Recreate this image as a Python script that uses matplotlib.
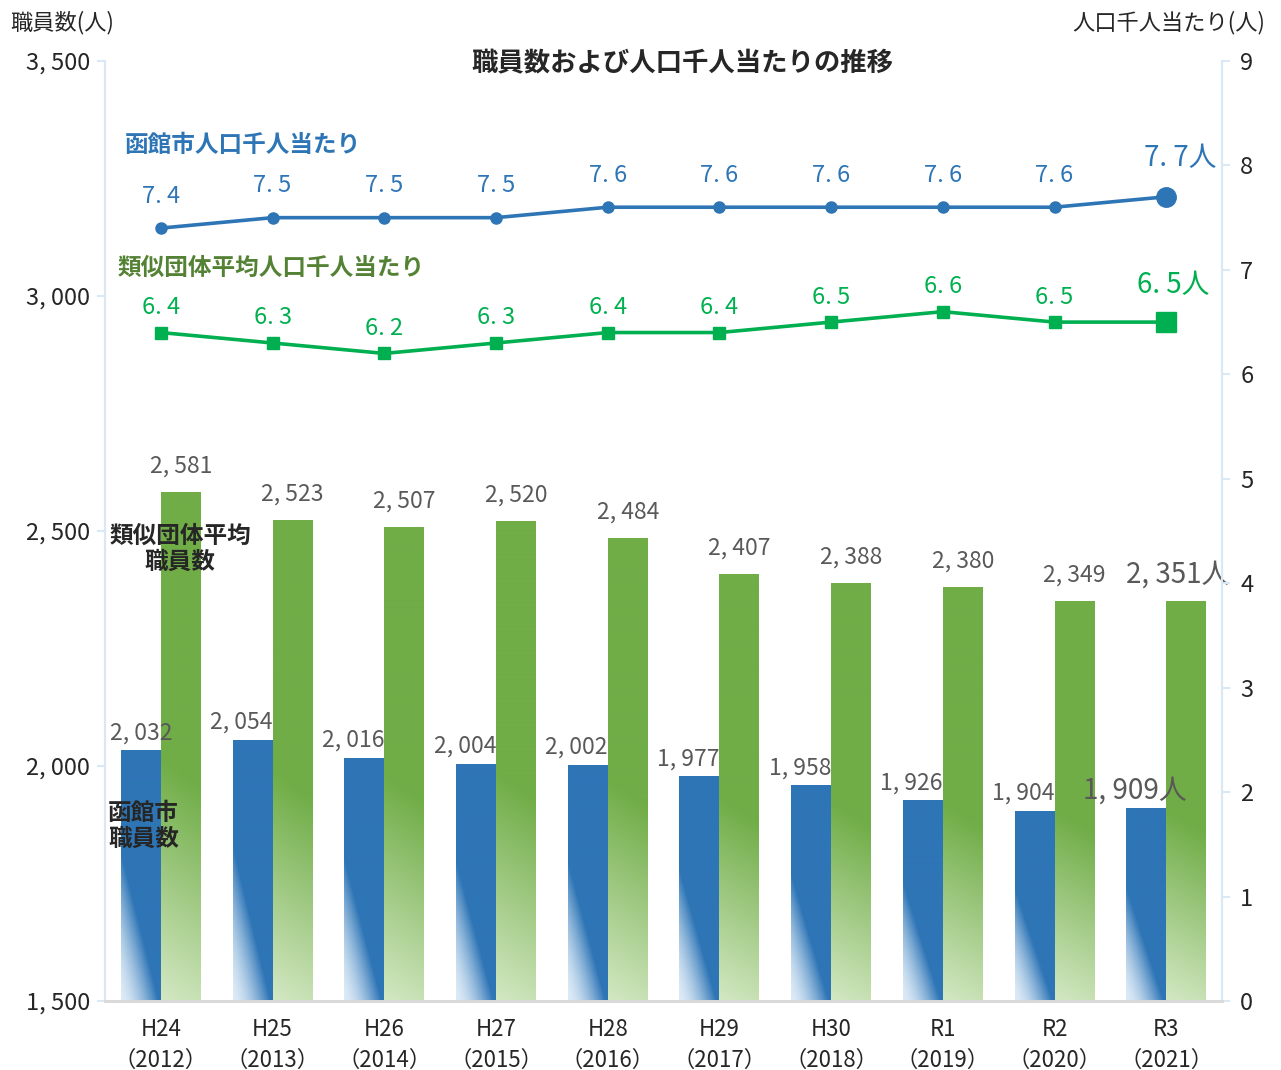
import numpy as np
import matplotlib
matplotlib.use("Agg")
import matplotlib.pyplot as plt
from matplotlib.colors import to_rgb

plt.rcParams['font.family'] = ['Noto Sans CJK JP', 'DejaVu Sans']

# data
years = ["H24\n（2012）", "H25\n（2013）", "H26\n（2014）", "H27\n（2015）", "H28\n（2016）",
         "H29\n（2017）", "H30\n（2018）", "R1\n（2019）", "R2\n（2020）", "R3\n（2021）"]
hakodate_staff = [2032, 2054, 2016, 2004, 2002, 1977, 1958, 1926, 1904, 1909]
similar_staff = [2581, 2523, 2507, 2520, 2484, 2407, 2388, 2380, 2349, 2351]
hakodate_per1000 = [7.4, 7.5, 7.5, 7.5, 7.6, 7.6, 7.6, 7.6, 7.6, 7.7]
similar_per1000 = [6.4, 6.3, 6.2, 6.3, 6.4, 6.4, 6.5, 6.6, 6.5, 6.5]

BLUE = "#2E75B6"
BLUE_LIGHT = "#DDEBF7"
GREEN_BAR = "#70AD47"
GREEN_LIGHT = "#D3E8C3"
GREEN_LINE = "#00B050"
GREEN_TEXT = "#548235"
GRAY_TEXT = "#595959"
DARK_TEXT = "#262626"
SPINE_BLUE = "#DAE8F5"


def fmt(v):
    return f"{v:,}".replace(",", ", ")


def fmt_dec(v):
    return f"{v:.1f}".replace(".", ". ")


def gradient_fill(ax, patch, c_light, c_dark, kx, ky, ymin, gamma=1.0):
    # paint the visible part of a bar with a bottom-left -> top-right gradient
    x0, y0 = patch.get_x(), max(patch.get_y(), ymin)
    x1, y1 = x0 + patch.get_width(), patch.get_y() + patch.get_height()
    nx, ny = 40, 200
    xf = np.linspace(0, 1, nx)[None, :]
    yf = np.linspace(0, 1, ny)[:, None]
    t = np.clip(xf * kx + yf * ky, 0, 1) ** gamma
    t = t[..., None]
    lo = np.array(to_rgb(c_light))
    hi = np.array(to_rgb(c_dark))
    img = lo + (hi - lo) * t
    ax.imshow(img, extent=(x0, x1, y0, y1), origin="lower", aspect="auto",
              interpolation="bilinear", zorder=2)
    patch.set_facecolor("none")


def main():
    fig = plt.figure(figsize=(12.81, 10.70), dpi=100)
    ax = fig.add_axes([0.082, 0.0645, 0.872, 0.8785])
    ax2 = ax.twinx()

    x = np.arange(len(years))
    w = 0.358
    ymin, ymax = 1500, 3500

    bars_h = ax.bar(x - w / 2, hakodate_staff, w, color=BLUE, zorder=1)
    bars_s = ax.bar(x + w / 2, similar_staff, w, color=GREEN_BAR, zorder=1)
    for p in bars_h:
        gradient_fill(ax, p, BLUE_LIGHT, BLUE, 1.05, 1.7, ymin, gamma=1.6)
    for p in bars_s:
        gradient_fill(ax, p, GREEN_LIGHT, GREEN_BAR, 0.12, 2.1, ymin)

    ax.set_xlim(-0.5, len(years) - 0.5)
    ax.set_ylim(ymin, ymax)
    ax.set_yticks(np.arange(1500, 3501, 500))
    ax.set_yticklabels([fmt(v) for v in range(1500, 3501, 500)])
    ax.set_xticks(x)
    ax.set_xticklabels(years, linespacing=1.45)

    # bar value labels
    n = len(years)
    for i, v in enumerate(hakodate_staff):
        last = i == n - 1
        ax.annotate(fmt(v) + ("人" if last else ""), (x[i] - w / 2, v),
                    xytext=(-8 if i else 0, 13), textcoords="offset points",
                    ha="center", va="center", fontsize=20 if last else 16.5,
                    color=GRAY_TEXT, zorder=5)
    for i, v in enumerate(similar_staff):
        last = i == n - 1
        ax.annotate(fmt(v) + ("人" if last else ""), (x[i] + w / 2, v),
                    xytext=(-6 if last else 0, 19), textcoords="offset points",
                    ha="center", va="center", fontsize=20 if last else 16.5,
                    color=GRAY_TEXT, zorder=5)

    # lines on the right axis
    ax2.plot(x, hakodate_per1000, color=BLUE, lw=2.6, marker="o", ms=8,
             zorder=4)
    ax2.plot(x[-1:], hakodate_per1000[-1:], "o", color=BLUE, ms=14, zorder=4)
    ax2.plot(x, similar_per1000, color=GREEN_LINE, lw=2.6, marker="s", ms=8,
             zorder=4)
    ax2.plot(x[-1:], similar_per1000[-1:], "s", color=GREEN_LINE, ms=14,
             zorder=4)
    for i, v in enumerate(hakodate_per1000):
        last = i == n - 1
        ax2.annotate(fmt_dec(v) + ("人" if last else ""), (x[i], v),
                     xytext=(10 if last else 0, 28 if last else 23),
                     textcoords="offset points", ha="center", va="center",
                     fontsize=20 if last else 17, color=BLUE)
    for i, v in enumerate(similar_per1000):
        last = i == n - 1
        ax2.annotate(fmt_dec(v) + ("人" if last else ""), (x[i], v),
                     xytext=(5 if last else 0, 27 if last else 18),
                     textcoords="offset points", ha="center", va="center",
                     fontsize=20 if last else 17, color=GREEN_LINE)
    ax2.set_ylim(0, 9)
    ax2.set_yticks(range(0, 10))

    # axes styling
    for a in (ax, ax2):
        a.spines["top"].set_visible(False)
        a.spines["left"].set_color(SPINE_BLUE)
        a.spines["right"].set_color(SPINE_BLUE)
        a.spines["left"].set_linewidth(1.5)
        a.spines["right"].set_linewidth(1.5)
        a.spines["bottom"].set_color("#D9D9D9")
        a.spines["bottom"].set_linewidth(2)
    ax.tick_params(axis="y", length=6, width=1.5, color=SPINE_BLUE, pad=5,
                   labelsize=17, labelcolor=DARK_TEXT)
    ax2.tick_params(axis="y", length=6, width=1.5, color=SPINE_BLUE, pad=7,
                    labelsize=17, labelcolor=DARK_TEXT)
    ax.tick_params(axis="x", length=0, pad=12, labelsize=16, labelcolor=DARK_TEXT)

    # titles and series captions
    fig.text(0.533, 0.940, "職員数および人口千人当たりの推移", ha="center",
             va="center", fontsize=19, fontweight="bold", color=DARK_TEXT)
    fig.text(0.0078, 0.9785, "職員数(人)", ha="left", va="center", fontsize=16,
             color=DARK_TEXT)
    fig.text(0.9875, 0.9785, "人口千人当たり(人)", ha="right", va="center",
             fontsize=16, color=DARK_TEXT)
    fig.text(0.0976, 0.8645, "函館市人口千人当たり", ha="left", va="center",
             fontsize=17, fontweight="bold", color=BLUE)
    fig.text(0.0921, 0.7495, "類似団体平均人口千人当たり", ha="left", va="center",
             fontsize=17, fontweight="bold", color=GREEN_TEXT)
    fig.text(0.1405, 0.487, "類似団体平均\n職員数", ha="center", va="center",
             fontsize=17, fontweight="bold", color=DARK_TEXT, linespacing=1.1,
             zorder=10)
    fig.text(0.0843, 0.228, "函館市\n職員数", ha="left", va="center",
             fontsize=17, fontweight="bold", color=DARK_TEXT, linespacing=1.1,
             zorder=10)

    fig.savefig("out.png", dpi=100)


if __name__ == "__main__":
    main()
